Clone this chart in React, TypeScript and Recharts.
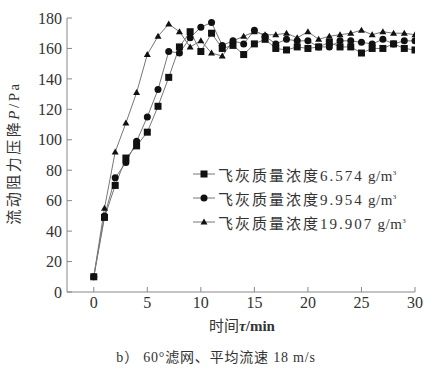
import { LineChart, Line, XAxis, YAxis } from "recharts";

// time, min
const times = [0, 1, 2, 3, 4, 5, 6, 7, 8, 9, 10, 11, 12, 13, 14, 15, 16, 17, 18, 19, 20, 21, 22, 23, 24, 25, 26, 27, 28, 29, 30];
// pressure drop, Pa
const ash6574 = [10, 49, 70, 88, 96, 105, 122, 141, 161, 171, 158, 170, 160, 162, 156, 163, 166, 160, 159, 161, 160, 161, 164, 161, 161, 157, 160, 160, 163, 160, 159];
const ash9954 = [10, 50, 75, 85, 99, 115, 133, 158, 157, 167, 174, 177, 162, 165, 163, 172, 168, 163, 166, 165, 165, 161, 161, 165, 165, 164, 163, 166, 163, 165, 165];
const ash19907 = [10, 55, 92, 111, 131, 156, 168, 176, 171, 161, 165, 157, 155, 165, 168, 171, 169, 169, 170, 167, 171, 166, 168, 169, 170, 172, 169, 171, 170, 170, 169];

const xTicks = [0, 5, 10, 15, 20, 25, 30];
const yTicks = [0, 20, 40, 60, 80, 100, 120, 140, 160, 180];
const legendNames = ["6.574", "9.954", "19.907"];

const data = times.map((t, i) => ({ t, a: ash6574[i], b: ash9954[i], c: ash19907[i] }));

const FONT = '"Liberation Serif", "Times New Roman", Times, "Noto Sans CJK SC", serif';
const LINE = "#777";
const MARK = "#111";
const AXIS = "#888";
const TEXT = "#333";

const Square = ({ cx, cy }: any) => <rect x={cx - 3.5} y={cy - 3.5} width={7} height={7} fill={MARK} />;
const Dot = ({ cx, cy }: any) => <circle cx={cx} cy={cy} r={3.5} fill={MARK} />;
const Tri = ({ cx, cy }: any) => (
  <polygon points={`${cx},${cy - 3.5} ${cx - 3.5},${cy + 2.5} ${cx + 3.5},${cy + 2.5}`} fill={MARK} />
);
const markers = [Square, Dot, Tri];

function Legend() {
  return (
    <div style={{ position: "absolute", left: 190, top: 162, fontFamily: FONT, color: TEXT }}>
      {legendNames.map((n, i) => {
        const M = markers[i];
        return (
          <div key={n} style={{ display: "flex", alignItems: "center", height: 24 }}>
            <svg width={28} height={16}>
              <line x1={3} y1={8} x2={25} y2={8} stroke={LINE} strokeWidth={1} />
              <M cx={14} cy={8} />
            </svg>
            <span style={{ fontSize: 15, letterSpacing: 2 }}>
              飞灰质量浓度{n}
              <span style={{ letterSpacing: 0.5 }}> g/m</span>
              <sup style={{ fontSize: 7 }}>3</sup>
            </span>
          </div>
        );
      })}
    </div>
  );
}

export default function App() {
  return (
    <div
      style={{
        position: "absolute",
        left: 0,
        top: 0,
        width: 434,
        height: 369,
        background: "#fff",
        fontFamily: FONT,
      }}
    >
      <LineChart
        width={434}
        height={369}
        data={data}
        margin={{ top: 18, right: 19, bottom: 0, left: 0 }}
        style={{ fontFamily: FONT }}
      >
        <XAxis
          dataKey="t"
          type="number"
          domain={[-2.5, 30]}
          ticks={xTicks}
          allowDataOverflow
          height={77}
          stroke={AXIS}
          tickSize={-5}
          tickMargin={10}
          tick={{ fontSize: 16, fill: TEXT, fontFamily: FONT }}
          label={() => (
            <g fontFamily={FONT} fill={TEXT}>
              <text x={242} y={331} textAnchor="middle" fontSize={15}>
                时间<tspan fontStyle="italic" fontWeight="bold">τ</tspan>
                <tspan fontWeight="bold">/min</tspan>
              </text>
              <text x={216} y={362} textAnchor="middle" fontSize={14} letterSpacing={0.8}>
                b）  60°滤网、平均流速 18 m/s
              </text>
              <text
                transform="translate(19,153) rotate(-90)"
                textAnchor="middle"
                fontSize={15}
                letterSpacing={2.5}
              >
                流动阻力压降<tspan fontStyle="italic">P</tspan>/Pa
              </text>
            </g>
          )}
        />
        <YAxis
          type="number"
          domain={[0, 180]}
          ticks={yTicks}
          width={67}
          stroke={AXIS}
          tickSize={-5}
          tickMargin={10}
          tick={{ fontSize: 16, fill: TEXT, fontFamily: FONT }}
        />
        <Line dataKey="a" stroke={LINE} strokeWidth={1} dot={<Square />} activeDot={false} isAnimationActive={false} />
        <Line dataKey="b" stroke={LINE} strokeWidth={1} dot={<Dot />} activeDot={false} isAnimationActive={false} />
        <Line dataKey="c" stroke={LINE} strokeWidth={1} dot={<Tri />} activeDot={false} isAnimationActive={false} />
      </LineChart>
      <Legend />
    </div>
  );
}
